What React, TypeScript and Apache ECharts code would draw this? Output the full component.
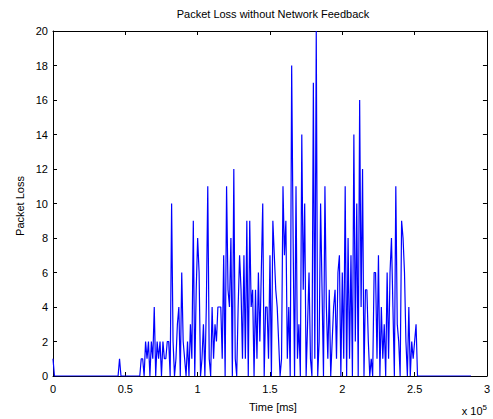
import React, { useEffect, useRef } from "react";
import * as echarts from "echarts";

// Time axis in ms, sampling step of the loss record
const sampleStepMs = 1000;
// Sparse early events (time ms, packet loss)
const earlyTimes = [0, 1000, 45000, 46000, 47000, 60000];
const earlyLoss = [1, 0, 0, 1, 0, 0];
// Main burst: loss per sample starting at 61000 ms
const burstStartMs = 61000;
const burstLoss = [
  1, 1, 0, 2, 1, 2, 0, 2, 1, 4, 0, 2, 1, 2, 0, 2, 1, 1, 2, 2,
  0, 10, 2, 0, 1, 3, 4, 0, 6, 2, 1, 0, 2, 0, 3, 1, 9, 0, 5, 8,
  6, 0, 1, 3, 0, 4, 11, 1, 0, 4, 1, 3, 2, 4, 4, 4, 1, 7, 0, 11,
  5, 4, 8, 0, 12, 1, 0, 4, 7, 5, 1, 7, 1, 9, 0, 9, 4, 5, 0, 5,
  1, 6, 2, 6, 10, 0, 4, 4, 1, 7, 0, 9, 7, 5, 4, 2, 0, 1, 11, 7,
  9, 1, 4, 0, 18, 8, 0, 11, 1, 3, 0, 14, 5, 10, 0, 3, 6, 1, 0, 17,
  1, 20, 0, 2, 10, 5, 0, 11, 4, 1, 5, 0, 2, 4, 5, 1, 6, 7, 0, 6,
  1, 11, 0, 8, 1, 7, 0, 14, 2, 10, 0, 16, 4, 12, 0, 5, 5, 2, 0, 1,
  0, 6, 6, 1, 7, 0, 4, 1, 3, 0, 6, 1, 6, 8, 4, 0, 11, 3, 2, 0,
  9, 8, 6, 2, 0, 4, 0, 2, 1, 2, 3, 0,
];
// Trailing quiet period
const lateTimes = [289000];
const lateLoss = [0];

const xTickValues = [0, 50000, 100000, 150000, 200000, 250000, 300000];
const yTicks = [0, 2, 4, 6, 8, 10, 12, 14, 16, 18, 20];

const FONT = "'Liberation Sans', Arial, Helvetica, sans-serif";

const mkLine = () => ({ show: true, onZero: false, lineStyle: { color: "#000", width: 1 } });
const mkTick = () => ({ show: true, inside: true, length: 4, lineStyle: { color: "#000", width: 1 } });

export default function App() {
  const ref = useRef<HTMLDivElement>(null);
  useEffect(() => {
    if (!ref.current) return;
    const chart = echarts.init(ref.current, undefined, { renderer: "svg" });
    const data: [number, number][] = [];
    earlyTimes.forEach((t, i) => data.push([t, earlyLoss[i]]));
    burstLoss.forEach((v, i) => data.push([burstStartMs + i * sampleStepMs, v]));
    lateTimes.forEach((t, i) => data.push([t, lateLoss[i]]));

    const xMin = xTickValues[0];
    const xMax = xTickValues[xTickValues.length - 1];
    const xInt = xTickValues[1] - xTickValues[0];
    const yMin = yTicks[0];
    const yMax = yTicks[yTicks.length - 1];
    const yInt = yTicks[1] - yTicks[0];

    chart.setOption({
      animation: false,
      backgroundColor: "#fff",
      grid: { left: 53, right: 1, top: 31, bottom: 43, containLabel: false },
      xAxis: [
        {
          type: "value", position: "bottom", min: xMin, max: xMax, interval: xInt,
          axisLine: mkLine(), axisTick: mkTick(), splitLine: { show: false },
          axisLabel: {
            show: true, margin: 7, color: "#000", fontSize: 11, fontFamily: FONT,
            formatter: (v: number) => String(v / 100000),
          },
        },
        {
          type: "value", position: "top", min: xMin, max: xMax, interval: xInt,
          axisLine: mkLine(), axisTick: mkTick(), splitLine: { show: false }, axisLabel: { show: false },
        },
      ],
      yAxis: [
        {
          type: "value", position: "left", min: yMin, max: yMax, interval: yInt,
          axisLine: mkLine(), axisTick: mkTick(), splitLine: { show: false },
          axisLabel: { show: true, margin: 5, color: "#000", fontSize: 11, fontFamily: FONT },
        },
        {
          type: "value", position: "right", min: yMin, max: yMax, interval: yInt,
          axisLine: mkLine(), axisTick: mkTick(), splitLine: { show: false }, axisLabel: { show: false },
        },
      ],
      series: [
        {
          type: "line", xAxisIndex: 0, yAxisIndex: 0, data,
          showSymbol: false, symbol: "none",
          lineStyle: { color: "#0000ff", width: 1.2 },
          z: 1,
        },
      ],
      graphic: [
        {
          type: "text", x: 273, y: 14,
          style: { text: "Packet Loss without Network Feedback", fill: "#000", font: `11px ${FONT}`, textAlign: "center", textVerticalAlign: "middle" },
        },
        {
          type: "text", x: 273, y: 407,
          style: { text: "Time [ms]", fill: "#000", font: `11px ${FONT}`, textAlign: "center", textVerticalAlign: "middle" },
        },
        {
          type: "text", x: 20, y: 206, rotation: Math.PI / 2,
          style: { text: "Packet Loss", fill: "#000", font: `11px ${FONT}`, textAlign: "center", textVerticalAlign: "middle" },
        },
        {
          type: "text", x: 487, y: 411,
          style: {
            text: "x 10{sup|5}", fill: "#000", font: `11px ${FONT}`, textAlign: "right", textVerticalAlign: "middle",
            rich: { sup: { fontSize: 8, fontFamily: FONT, fill: "#000", padding: [0, 0, 7, 0] } },
          },
        },
      ],
    });
    return () => chart.dispose();
  }, []);
  return (
    <div
      ref={ref}
      style={{ position: "fixed", left: 0, top: 0, width: 493, height: 419, background: "#fff" }}
    />
  );
}
